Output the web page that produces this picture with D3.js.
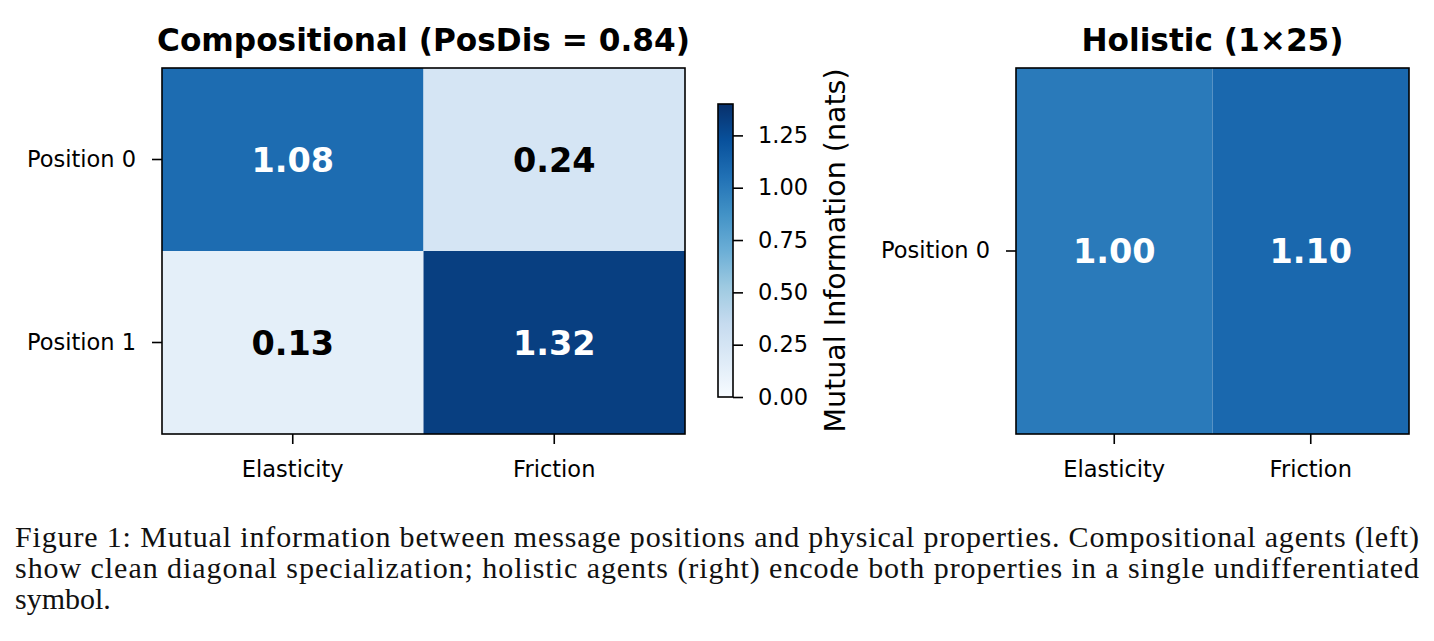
<!DOCTYPE html>
<html>
<head>
<meta charset="utf-8">
<script src="https://cdn.jsdelivr.net/npm/d3@7"></script>
<style>
  body { margin: 0; background: #fff; }
  text { font-family: "DejaVu Sans", sans-serif; }
  .caption { font-family: "Liberation Serif", serif; font-size: 30px; fill: #111; }
</style>
</head>
<body>
<div id="chart"></div>
<script>
// ---- data ----
const properties = ['Elasticity', 'Friction'];
const compRows = ['Position 0', 'Position 1'];
const compValues = [[1.08, 0.24], [0.13, 1.32]];
const holRows = ['Position 0'];
const holValues = [[1.00, 1.10]];
const compTitle = 'Compositional (PosDis = 0.84)';
const holTitle = 'Holistic (1\u00d725)';
const cbarLabel = 'Mutual Information (nats)';
const cbarTicks = [0, 0.25, 0.5, 0.75, 1.0, 1.25];
const vmax = 1.4;
const captionLines = [
  'Figure 1: Mutual information between message positions and physical properties. Compositional agents (left)',
  'show clean diagonal specialization; holistic agents (right) encode both properties in a single undifferentiated',
  'symbol.'
];

// matplotlib "Blues" anchors
const blues = ['#f7fbff', '#deebf7', '#c6dbef', '#9ecae1', '#6baed6', '#4292c6', '#2171b5', '#08519c', '#08306b'];
const color = d3.scaleLinear()
    .domain(blues.map((c, i) => vmax * i / (blues.length - 1)))
    .range(blues)
    .interpolate(d3.interpolateRgb);

const W = 1434, H = 641;
const tickFont = 22.5;
const svg = d3.select('#chart').append('svg')
    .attr('width', W)
    .attr('height', H);

function styleAxis(a) {
  a.select('.domain').remove();
  a.selectAll('line').attr('stroke', '#000').attr('stroke-width', 1.6);
  a.selectAll('text').attr('font-size', tickFont).attr('fill', '#000')
      .attr('font-family', '"DejaVu Sans", sans-serif');
}

function heatmap(cfg) {
  const x = d3.scaleBand().domain(properties).range([cfg.left, cfg.right]);
  const y = d3.scaleBand().domain(cfg.rows).range([cfg.top, cfg.bottom]);
  const g = svg.append('g');

  const cells = [];
  cfg.values.forEach((row, i) => row.forEach((v, j) => cells.push({row: cfg.rows[i], col: properties[j], v})));

  g.selectAll('rect.cell')
      .data(cells)
    .join('rect')
      .attr('class', 'cell')
      .attr('x', d => x(d.col))
      .attr('y', d => y(d.row))
      .attr('width', x.bandwidth())
      .attr('height', y.bandwidth())
      .attr('fill', d => color(d.v));

  g.selectAll('text.val')
      .data(cells)
    .join('text')
      .attr('class', 'val')
      .attr('x', d => x(d.col) + x.bandwidth() / 2)
      .attr('y', d => y(d.row) + y.bandwidth() / 2)
      .attr('dy', '0.36em')
      .attr('text-anchor', 'middle')
      .attr('font-size', 33.5)
      .attr('font-weight', 'bold')
      .attr('fill', d => d.v > vmax / 2 ? '#fff' : '#000')
      .text(d => d.v.toFixed(2));

  // frame
  g.append('rect')
      .attr('x', cfg.left).attr('y', cfg.top)
      .attr('width', cfg.right - cfg.left).attr('height', cfg.bottom - cfg.top)
      .attr('fill', 'none').attr('stroke', '#000').attr('stroke-width', 1.6);

  styleAxis(g.append('g')
      .attr('transform', `translate(0,${cfg.bottom})`)
      .call(d3.axisBottom(x).tickSize(10).tickPadding(17)));
  styleAxis(g.append('g')
      .attr('transform', `translate(${cfg.left},0)`)
      .call(d3.axisLeft(y).tickSize(10).tickPadding(16)));

  g.append('text')
      .attr('x', (cfg.left + cfg.right) / 2)
      .attr('y', cfg.top - 17)
      .attr('text-anchor', 'middle')
      .attr('font-size', 31.2)
      .attr('font-weight', 'bold')
      .text(cfg.title);
}

heatmap({left: 162, right: 685, top: 68, bottom: 434, rows: compRows, values: compValues, title: compTitle});
heatmap({left: 1016, right: 1409, top: 68, bottom: 434, rows: holRows, values: holValues, title: holTitle});

// ---- colorbar ----
const cb = {left: 718, width: 15, top: 104, bottom: 397};
const cy = d3.scaleLinear().domain([0, vmax]).range([cb.bottom, cb.top]);
const grad = svg.append('defs').append('linearGradient')
    .attr('id', 'cbar-grad')
    .attr('x1', 0).attr('y1', 1).attr('x2', 0).attr('y2', 0);
grad.selectAll('stop')
    .data(blues)
  .join('stop')
    .attr('offset', (d, i) => i / (blues.length - 1))
    .attr('stop-color', d => d);

svg.append('rect')
    .attr('x', cb.left).attr('y', cb.top)
    .attr('width', cb.width).attr('height', cb.bottom - cb.top)
    .attr('fill', 'url(#cbar-grad)')
    .attr('stroke', '#000').attr('stroke-width', 1.6);

styleAxis(svg.append('g')
    .attr('transform', `translate(${cb.left + cb.width},0)`)
    .call(d3.axisRight(cy).tickValues(cbarTicks).tickFormat(d3.format('.2f')).tickSize(10).tickPadding(15)));

svg.append('text')
    .attr('transform', `translate(845,${(cb.top + cb.bottom) / 2}) rotate(-90)`)
    .attr('text-anchor', 'middle')
    .attr('font-size', 28.5)
    .text(cbarLabel);

// ---- caption ----
const capY = [547, 578, 609];
svg.selectAll('text.caption')
    .data(captionLines)
  .join('text')
    .attr('class', 'caption')
    .attr('x', 15)
    .attr('y', (d, i) => capY[i])
    .each(function(d, i) {
      if (i < captionLines.length - 1) {
        d3.select(this).attr('textLength', 1404).attr('lengthAdjust', 'spacing');
      }
    })
    .text(d => d);
</script>
</body>
</html>
